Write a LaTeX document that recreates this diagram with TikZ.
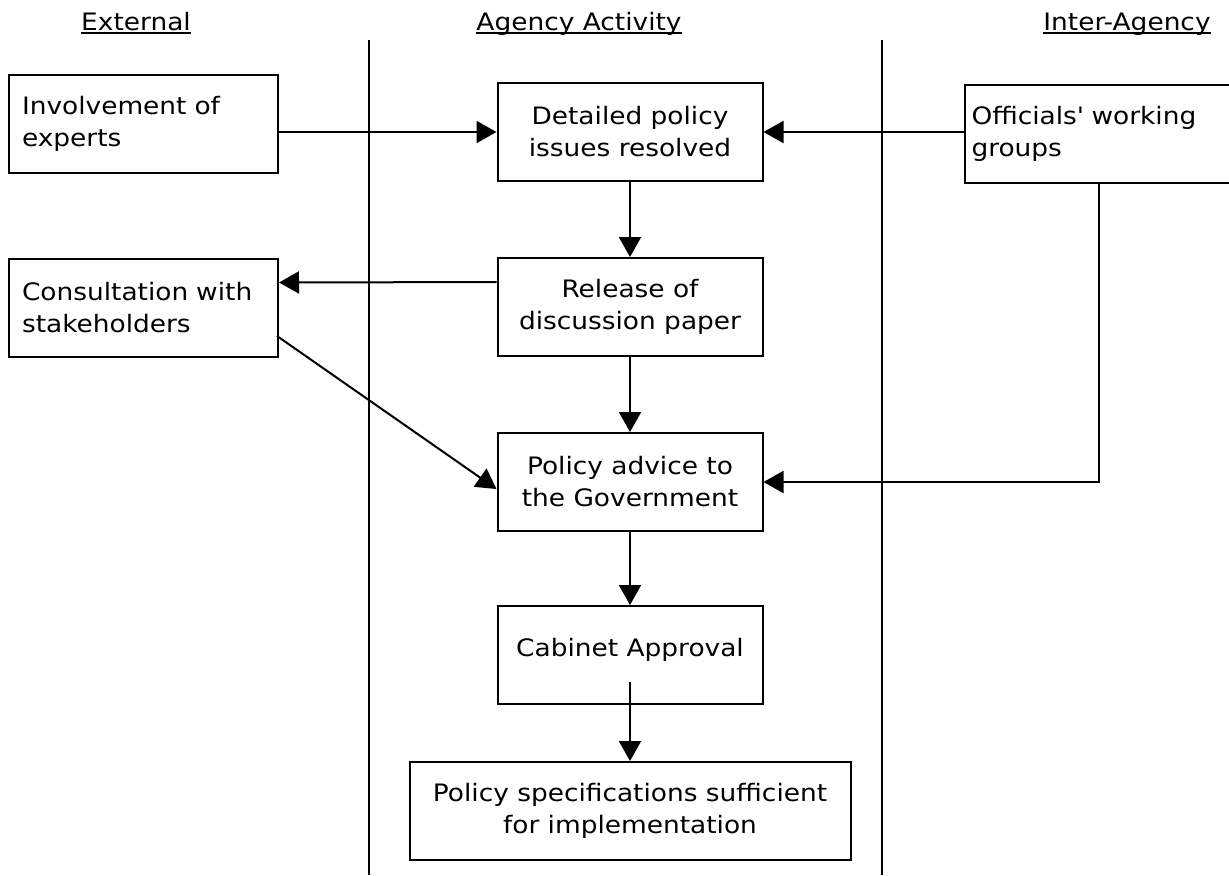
\documentclass[tikz,border=0pt]{standalone}
\usepackage{fontspec}
\setmainfont{DejaVu Sans}[FakeStretch=1.1]
\usetikzlibrary{positioning,arrows.meta}
\newsavebox{\headbox}
\newcommand{\headul}[1]{\sbox{\headbox}{#1}\rlap{\rule[-1.8pt]{\wd\headbox}{0.8pt}}\usebox{\headbox}}
\tikzstyle{head} = [anchor=base,inner sep=0pt,font=\fontsize{12pt}{16pt}\selectfont]

\begin{document}
\begin{tikzpicture}
		[
		x=0.5pt,y=-0.5pt,
		block/.style={
		draw,
		rectangle,
		line width=1pt,
		minimum width=132.5pt,
		minimum height=49pt,
		inner sep=0pt,
		align=center,
		font=\fontsize{12pt}{16pt}\selectfont},
		leftblock/.style={block,inner xsep=6.5pt,text width=121.5pt,align=left},
		link/.style={line width=1pt,-{Triangle[length=10pt,width=11pt]}},
		node distance=87.5pt
		]
		\useasboundingbox (0,0) rectangle (1229,875);
		\node[head](external) at (136,30) {\headul{External}};
		\node[head](agency) at (579,30) {\headul{Agency Activity}};
		\node[head](interagency) at (1127,30) {\headul{Inter-Agency}};
		\draw[line width=1pt] (369,40) -- (369,875);
		\draw[line width=1pt] (882,40) -- (882,875);

		\node[block](detailed) at (630,132) {Detailed policy\\issues resolved};
		\node[block,below of=detailed](release) {Release of\\discussion paper};
		\node[block,below of=release](advice) {Policy advice to\\the Government};
		\node[block,below of=advice,node distance=86.5pt,text depth=7.8pt](cabinet) {Cabinet Approval};
		\node[block,below of=cabinet,node distance=78pt,minimum width=220.5pt](spec) {Policy specifications sufficient\\for implementation};
		\node[leftblock](experts) at (143.5,124) {Involvement of\\experts};
		\node[leftblock,below of=experts,node distance=91.75pt](consult) {Consultation with\\stakeholders};
		\node[leftblock,inner xsep=3.5pt,text width=127.5pt](officials) at (1099,134) {Officials\textquotesingle{} working\\groups};

		\draw[link] (experts.east |- detailed) -- (detailed);
		\draw[link] (officials.west |- detailed) -- (detailed);
		\draw[link] (release.north |- detailed.south) -- (release);
		\draw[link] ([yshift=12.5pt]release.west) -- ([yshift=12.5pt]consult.east);
		\draw[link] (release) -- (advice);
		\draw[link] ([xshift=-1pt,yshift=-14.25pt]consult.east) -- ([yshift=-3.5pt]advice.west);
		\draw[link] (officials.south) |- (advice.east);
		\draw[link] (advice) -- (cabinet);
		\draw[link] ([yshift=11.5pt]cabinet.south) -- (cabinet.south |- spec.north);
\end{tikzpicture}
\end{document}
